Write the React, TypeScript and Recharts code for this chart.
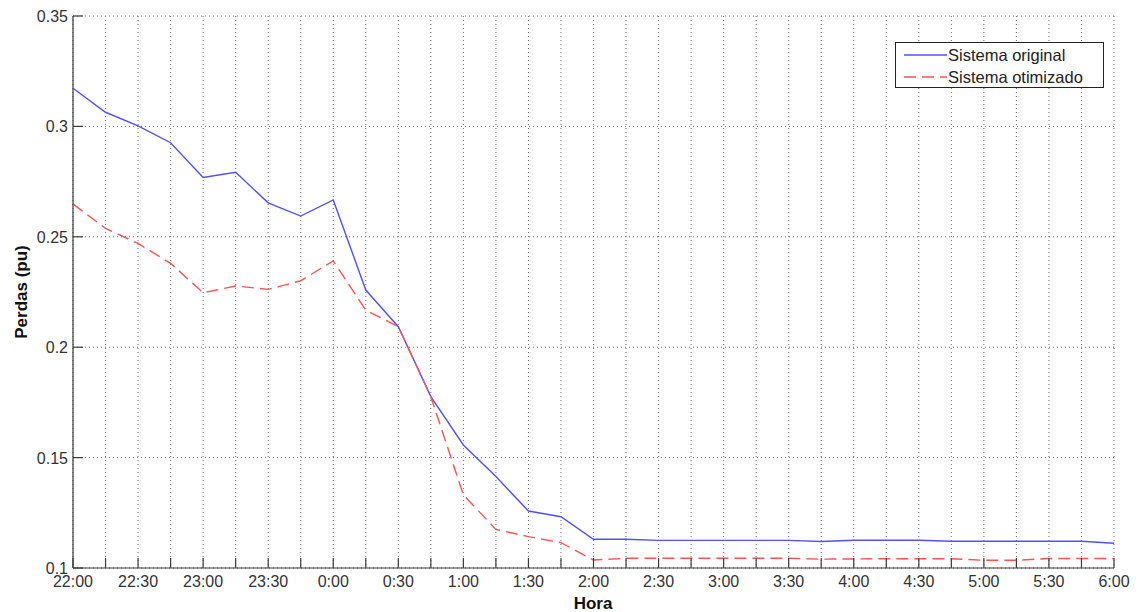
import React from 'react';
import { LineChart, Line, XAxis, YAxis, CartesianGrid, Legend, Label } from 'recharts';

// time of day, every 15 minutes from 22:00 to 6:00
const horas = [
  '22:00', '22:15', '22:30', '22:45', '23:00', '23:15', '23:30', '23:45',
  '0:00', '0:15', '0:30', '0:45', '1:00', '1:15', '1:30', '1:45',
  '2:00', '2:15', '2:30', '2:45', '3:00', '3:15', '3:30', '3:45',
  '4:00', '4:15', '4:30', '4:45', '5:00', '5:15', '5:30', '5:45', '6:00',
];

// losses (pu)
const sistemaOriginal = [
  0.3173, 0.3064, 0.3002, 0.2926, 0.2769, 0.2792, 0.2654, 0.2594,
  0.2667, 0.2259, 0.2093, 0.1776, 0.1557, 0.1414, 0.1258, 0.1232,
  0.1130, 0.1130, 0.1125, 0.1125, 0.1125, 0.1125, 0.1125, 0.1120,
  0.1126, 0.1126, 0.1126, 0.1121, 0.1121, 0.1121, 0.1121, 0.1121, 0.1112,
];

const sistemaOtimizado = [
  0.2649, 0.2538, 0.2470, 0.2380, 0.2247, 0.2277, 0.2262, 0.2301,
  0.2391, 0.2168, 0.2093, 0.1776, 0.1331, 0.1175, 0.1142, 0.1115,
  0.1036, 0.1044, 0.1044, 0.1044, 0.1044, 0.1044, 0.1044, 0.1040,
  0.1041, 0.1042, 0.1042, 0.1042, 0.1035, 0.1035, 0.1043, 0.1043, 0.1043,
];

const perdasTicks = [0.1, 0.15, 0.2, 0.25, 0.3, 0.35];

const series = [
  { key: 'original', name: 'Sistema original', color: '#5050ff', dash: undefined },
  { key: 'otimizado', name: 'Sistema otimizado', color: '#ff5252', dash: '12 6' },
];

const data = horas.map((hora, i) => ({
  hora,
  original: sistemaOriginal[i],
  otimizado: sistemaOtimizado[i],
}));

const FONT = '"Liberation Sans", Arial, sans-serif';
const EIXO = '#3a3a3a';
const TICK_LEN = 10;

// MATLAB-style inward ticks; only every other hour mark gets a label
const BottomTick = ({ x, y, payload }: any) => {
  const idx = horas.indexOf(payload.value);
  return (
    <g>
      <line x1={x} y1={y} x2={x} y2={y - TICK_LEN} stroke={EIXO} strokeWidth={1.2} />
      {idx % 2 === 0 && (
        <text x={x} y={y + 19} textAnchor="middle" fill="#333" fontSize={16} fontFamily={FONT}>
          {payload.value}
        </text>
      )}
    </g>
  );
};

const TopTick = ({ x, y }: any) => (
  <line x1={x} y1={y} x2={x} y2={y + TICK_LEN} stroke={EIXO} strokeWidth={1.2} />
);

const LeftTick = ({ x, y, payload }: any) => (
  <g>
    <line x1={x} y1={y} x2={x + TICK_LEN} y2={y} stroke={EIXO} strokeWidth={1.2} />
    <text x={x - 5} y={y + 6} textAnchor="end" fill="#333" fontSize={16} fontFamily={FONT}>
      {String(payload.value)}
    </text>
  </g>
);

const RightTick = ({ x, y }: any) => (
  <line x1={x} y1={y} x2={x - TICK_LEN} y2={y} stroke={EIXO} strokeWidth={1.2} />
);

const LegendBox = () => (
  <div
    style={{
      width: 209,
      height: 46,
      boxSizing: 'border-box',
      border: '1px solid #222',
      background: '#fff',
      paddingTop: 1,
      fontFamily: FONT,
      fontSize: 16.5,
      color: '#222',
    }}
  >
    {series.map(s => (
      <div key={s.key} style={{ display: 'flex', alignItems: 'center', height: 22 }}>
        <svg width={52} height={10} style={{ flexShrink: 0 }}>
          <line x1={8} y1={5} x2={51} y2={5} stroke={s.color} strokeWidth={1.5} strokeDasharray={s.dash} />
        </svg>
        <span style={{ lineHeight: '22px' }}>{s.name}</span>
      </div>
    ))}
  </div>
);

const App: React.FC = () => {
  return (
    <div style={{ position: 'absolute', left: 0, top: 0, width: 1139, height: 612, background: '#fff' }}>
      <LineChart
        width={1139}
        height={612}
        data={data}
        margin={{ top: 16, right: 25, bottom: 0, left: 0 }}
        style={{ fontFamily: FONT }}
      >
        <CartesianGrid stroke="#6a6a6a" strokeDasharray="1 3" />
        <XAxis
          dataKey="hora"
          interval={0}
          height={44}
          tickSize={0}
          tickMargin={0}
          tick={<BottomTick />}
          axisLine={{ stroke: EIXO, strokeWidth: 1.2 }}
        >
          <Label
            content={() => (
              <text x={593} y={609} textAnchor="middle" fontSize={17} fontWeight="bold" fontFamily={FONT} fill="#111">
                Hora
              </text>
            )}
          />
        </XAxis>
        <XAxis
          xAxisId="top"
          orientation="top"
          dataKey="hora"
          interval={0}
          height={0}
          tickSize={0}
          tickMargin={0}
          tick={<TopTick />}
          axisLine={{ stroke: EIXO, strokeWidth: 1.2 }}
        />
        <YAxis
          type="number"
          domain={[0.1, 0.35]}
          ticks={perdasTicks}
          interval={0}
          allowDataOverflow
          width={73}
          tickSize={0}
          tickMargin={0}
          tick={<LeftTick />}
          axisLine={{ stroke: EIXO, strokeWidth: 1.2 }}
        >
          <Label
            content={() => (
              <text
                x={27}
                y={292}
                transform="rotate(-90 27 292)"
                textAnchor="middle"
                fontSize={17}
                fontWeight="bold"
                fontFamily={FONT}
                fill="#111"
              >
                Perdas (pu)
              </text>
            )}
          />
        </YAxis>
        <YAxis
          yAxisId="right"
          orientation="right"
          type="number"
          domain={[0.1, 0.35]}
          ticks={perdasTicks}
          interval={0}
          allowDataOverflow
          width={0}
          tickSize={0}
          tickMargin={0}
          tick={<RightTick />}
          axisLine={{ stroke: EIXO, strokeWidth: 1.2 }}
        />
        <Legend
          layout="vertical"
          align="center"
          verticalAlign="middle"
          content={<LegendBox />}
          wrapperStyle={{ left: 895, top: 42, width: 209, height: 46 }}
        />
        {series.map(s => (
          <Line
            key={s.key}
            type="linear"
            dataKey={s.key}
            name={s.name}
            stroke={s.color}
            strokeWidth={1.4}
            strokeDasharray={s.dash}
            dot={false}
            activeDot={false}
            isAnimationActive={false}
          />
        ))}
      </LineChart>
    </div>
  );
};

export default App;
